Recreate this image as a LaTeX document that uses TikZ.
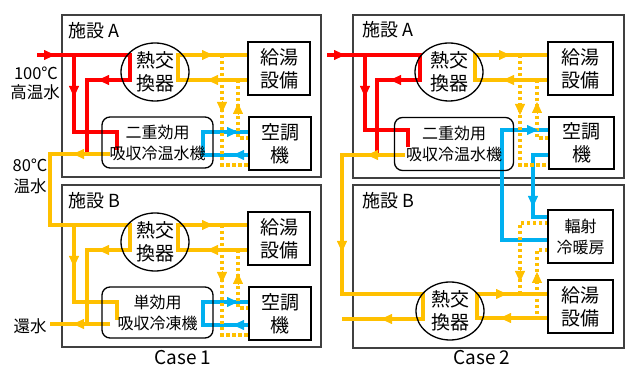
\documentclass[tikz,border=0pt]{standalone}
\usepackage{fontspec}
\setmainfont{Noto Sans CJK JP}
\usetikzlibrary{arrows.meta,shapes.geometric}
\definecolor{cred}{HTML}{FF0000}
\definecolor{cyel}{HTML}{FFC000}
\definecolor{cblue}{HTML}{00B0F0}
\definecolor{cframe}{HTML}{404040}
\newcommand\arrR[3]{\draw[ah=#1] ({#2-12},#3) -- (#2,#3);}
\newcommand\arrL[3]{\draw[ah=#1] ({#2+12},#3) -- (#2,#3);}
\newcommand\arrD[3]{\draw[ah=#1] (#2,{#3-12}) -- (#2,#3);}
\newcommand\arrU[3]{\draw[ah=#1] (#2,{#3+12}) -- (#2,#3);}
\begin{document}
\begin{tikzpicture}[x=1pt,y=-1pt,
  pipe/.style={line width=4pt, line join=miter},
  rp/.style={pipe, draw=cred},
  yp/.style={pipe, draw=cyel},
  bp/.style={pipe, draw=cblue},
  dp/.style={line width=3.5pt, draw=cyel, dash pattern=on 3.5pt off 2.5pt},
  ah/.style={draw=#1, fill=#1, line width=0.8pt, -{Triangle[length=11pt,width=10pt]}},
  facility/.style={draw=cframe, line width=1.3pt, inner sep=0pt},
  eq/.style={draw, line width=1.5pt, fill=white, inner sep=0pt, align=center,
    font=\fontsize{19}{23}\selectfont},
  hx/.style={draw, line width=1.3pt, ellipse, minimum width=68pt, minimum height=58pt,
    inner sep=0pt, align=center, font=\fontsize{19}{23}\selectfont},
  absb/.style={draw, line width=1.3pt, rounded corners=8pt, inner sep=0pt, align=center,
    font=\fontsize{16}{21}\selectfont},
  flabel/.style={anchor=west, inner sep=0pt, font=\fontsize{18}{20}\selectfont},
  olabel/.style={inner sep=0pt, align=center, font=\fontsize{16.5}{19}\selectfont},
  clabel/.style={anchor=base, inner sep=0pt, font=\fontsize{19}{20}\selectfont}
]
\useasboundingbox (0,0) rectangle (635,371);

% facility frames
\node[facility, minimum width=259pt, minimum height=162pt] (c1A) at (191.5,96) {};
\node[facility, minimum width=259pt, minimum height=162pt] (c1B) at (191.5,266) {};
\node[facility, minimum width=271pt, minimum height=163pt] (c2A) at (488.5,96.5) {};
\node[facility, minimum width=271pt, minimum height=163pt] (c2B) at (488.5,266.5) {};

% ---------- Case 1, facility A: heat source side ----------
\draw[rp] (37,55) -- (130,55) -- (130,80) -- (87,80) -- (87,154);
\draw[rp] (74,55) -- (74,132) -- (117,132) -- (117,150);
% 80C water to facility B
\draw[yp] (110,154) -- (50,154) -- (50,225) -- (130,225) -- (130,250) -- (87,250) -- (87,324);
\draw[yp] (74,225) -- (74,302) -- (117,302) -- (117,320);
\draw[yp] (110,324) -- (50,324);
\arrR{cred}{55}{55}
\arrL{cred}{98}{80}
\arrD{cred}{74}{97}
\arrL{cyel}{73}{154}
\arrL{cyel}{98}{250}
\arrD{cyel}{74}{267}
\arrL{cyel}{73}{324}

% ---------- Case 1, load side (A and B) ----------
\foreach \dy in {0,170}{
  \begin{scope}[yshift=-\dy pt]
    \draw[bp] (249,132) -- (203,132) -- (203,155) -- (249,155);
    \draw[yp] (248,55) -- (178,55) -- (178,80) -- (248,80);
    \draw[dp] (222,55) -- (222,165) -- (249,165);
    \draw[dp] (238,80) -- (238,138) -- (249,138);
    \arrR{cyel}{213}{55}
    \arrL{cyel}{207}{80}
    \arrD{cyel}{222}{113}
    \arrU{cyel}{238}{103}
    \arrR{cblue}{238}{132}
    \arrL{cblue}{233}{155}
  \end{scope}
}

% ---------- Case 2 ----------
\draw[rp] (327,55) -- (420,55) -- (420,80) -- (377,80) -- (377,154);
\draw[rp] (365,55) -- (365,130) -- (408,130) -- (408,147);
\draw[yp] (405,155) -- (342,155) -- (342,294) -- (423,294) -- (423,319) -- (342,319);
\arrR{cred}{345}{55}
\arrL{cred}{390}{80}
\arrD{cred}{365}{97}
\arrL{cyel}{367}{155}
\arrD{cyel}{342}{252}
\arrL{cyel}{381}{319}

\draw[bp] (549,130) -- (502,130) -- (502,240) -- (548,240);
\draw[bp] (549,155) -- (533,155) -- (533,217) -- (548,217);
\draw[yp] (548,55) -- (475,55) -- (475,80) -- (548,80);
\draw[dp] (520,55) -- (520,165) -- (549,165);
\draw[dp] (537,80) -- (537,138) -- (549,138);
\arrR{cyel}{510}{55}
\arrL{cyel}{503}{80}
\arrD{cyel}{520}{115}
\arrU{cyel}{537}{102}
\arrR{cblue}{538}{130}
\arrD{cblue}{533}{207}

\draw[yp] (548,294) -- (477,294) -- (477,318) -- (548,318);
\draw[dp] (548,223) -- (520,223) -- (520,294);
\draw[dp] (548,250) -- (537,250) -- (537,318);
\arrR{cyel}{507}{294}
\arrL{cyel}{500}{318}
\arrD{cyel}{520}{282}
\arrU{cyel}{537}{272}

% ---------- equipment nodes ----------
\node[hx] (hx1A) at (155,72) {熱交\\換器};
\node[hx] (hx1B) at (155,242) {熱交\\換器};
\node[hx] (hx2A) at (449,72) {熱交\\換器};
\node[hx] (hx2B) at (450,311) {熱交\\換器};

\node[absb, minimum width=111pt, minimum height=51pt] (ab1A) at (157.5,142.5) {二重効用\\吸収冷温水機};
\node[absb, minimum width=111pt, minimum height=51pt] (ab1B) at (157.5,312.5) {単効用\\吸収冷凍機};
\node[absb, minimum width=119pt, minimum height=53pt] (ab2A) at (454,144) {二重効用\\吸収冷温水機};

\node[eq, minimum width=62pt, minimum height=53pt] (kt1A) at (279,68.5) {給湯\\設備};
\node[eq, minimum width=62pt, minimum height=53pt] (ac1A) at (280,143.5) {空調\\機};
\node[eq, minimum width=62pt, minimum height=53pt] (kt1B) at (279,238.5) {給湯\\設備};
\node[eq, minimum width=62pt, minimum height=53pt] (ac1B) at (280,313.5) {空調\\機};

\node[eq, minimum width=65pt, minimum height=53pt] (kt2A) at (580.5,68.5) {給湯\\設備};
\node[eq, minimum width=65pt, minimum height=52pt] (ac2A) at (581.5,143) {空調\\機};
\node[eq, minimum width=65pt, minimum height=53pt, font=\fontsize{16}{21}\selectfont] (rd2B) at (580.5,236.5) {輻射\\冷暖房};
\node[eq, minimum width=65pt, minimum height=53pt] (kt2B) at (580.5,306.5) {給湯\\設備};

% ---------- labels ----------
\node[flabel] (f1A) at (68,31) {施設 A};
\node[flabel] (f1B) at (68,201) {施設 B};
\node[flabel] (f2A) at (362,30) {施設 A};
\node[flabel] (f2B) at (362,201) {施設 B};

\node[olabel] (t100) at (36,73) {100℃};
\node[olabel] (thw) at (35,92) {高温水};
\node[olabel] (t80) at (30,165) {80℃};
\node[olabel] (tww) at (30,186) {温水};
\node[olabel] (tret) at (30,326) {還水};

\node[clabel] (cs1) at (183,365) {Case 1};
\node[clabel] (cs2) at (482,365) {Case 2};
\end{tikzpicture}
\end{document}
